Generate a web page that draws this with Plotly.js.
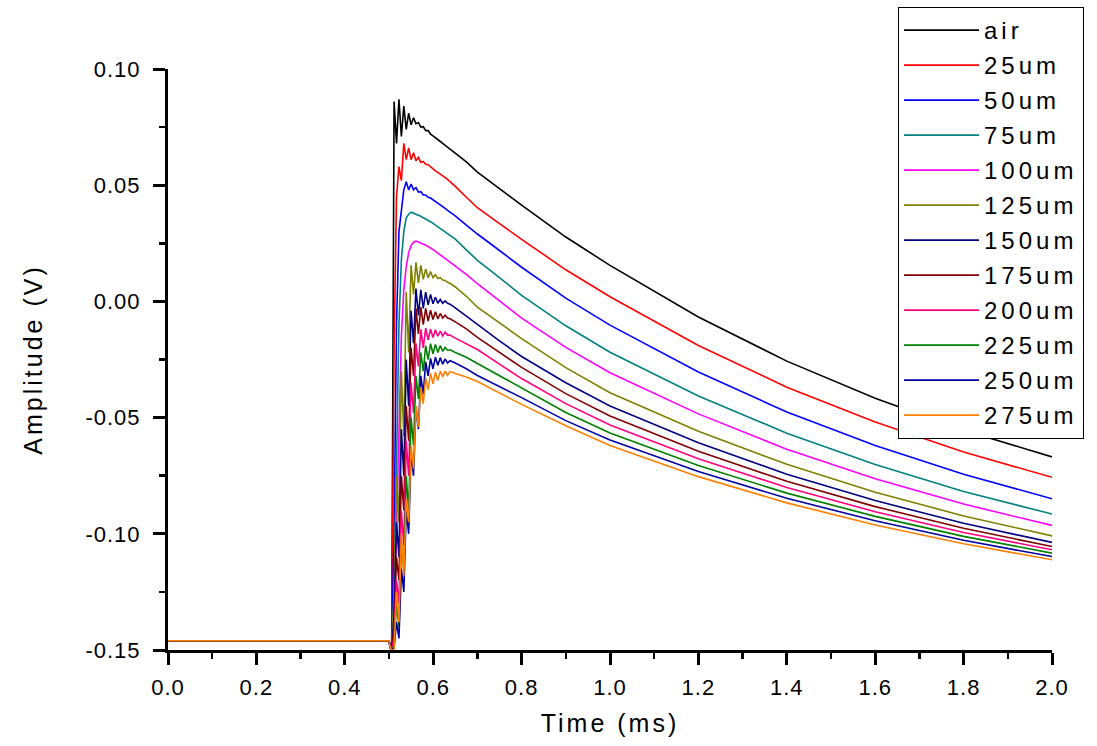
<!DOCTYPE html>
<html>
<head>
<meta charset="utf-8">
<script src="https://cdn.plot.ly/plotly-3.0.1.min.js"></script>
<style>
  html, body { margin: 0; padding: 0; background: #fff; }
  #chart { width: 1097px; height: 746px; }
  .legendtext { letter-spacing: 4px; }
  .xtitle, .ytitle { letter-spacing: 3px; }
  .xtick text, .ytick text { letter-spacing: 1px; }
</style>
</head>
<body>
<div id="chart"></div>
<script>
// Time axis (ms)
const time = [0, 0.5, 0.503, 0.506, 0.5115, 0.517, 0.5225, 0.528, 0.5335, 0.539, 0.5445, 0.55,
  0.5555, 0.561, 0.5665, 0.572, 0.5775, 0.583, 0.5885, 0.594, 0.5995, 0.605, 0.6105, 0.616,
  0.6215, 0.627, 0.6325, 0.638, 0.65, 0.675, 0.7, 0.75, 0.8, 0.9, 1.0, 1.2, 1.4, 1.6, 1.8, 2.0];

// Amplitude (V) per series
const air = [-0.146,-0.146,-0.149,-0.150, 0.086,0.068,0.087,0.071,0.084,0.074,0.081,0.076,0.079,0.0765,0.077,0.075,0.0752,0.0735,0.0735,0.072,0.0712,0.0705,0.0695,0.0688,0.068,0.0672,0.0664,0.0656, 0.064,0.06, 0.0556,0.0483,0.0414,0.0277,0.0155,-0.0067,-0.0257,-0.0417,-0.0554,-0.0669];
const um25 = [-0.146,-0.146,-0.149,-0.150, -0.02,0.045,0.058,0.052,0.068,0.061,0.066,0.061,0.064,0.0605,0.062,0.0598,0.0602,0.059,0.0588,0.0578,0.057,0.0562,0.0555,0.0548,0.054,0.0532,0.0525,0.0515, 0.0495,0.0448, 0.0403,0.0335,0.0267,0.0136,0.002,-0.019,-0.0369,-0.0519,-0.0648,-0.0757];
const um50 = [-0.146,-0.146,-0.149,-0.150, -0.10,-0.01,0.030,0.040,0.048,0.0515,0.048,0.0505,0.048,0.049,0.047,0.0472,0.0458,0.0458,0.0448,0.0445,0.0438,0.043,0.0423,0.0415,0.0408,0.04,0.0392,0.0385, 0.0368,0.0328, 0.029,0.0219,0.0147,0.0014,-0.0102,-0.0304,-0.0476,-0.062,-0.0744,-0.0849];
const um75 = [-0.146,-0.146,-0.149,-0.150, -0.13,-0.06,-0.01,0.018,0.030,0.036,0.0375,0.0384,0.038,0.0375,0.0372,0.0366,0.036,0.0355,0.035,0.0343,0.0336,0.0329,0.0322,0.0315,0.0308,0.03,0.0293,0.0285, 0.0268,0.0222, 0.0177,0.0102,0.0026,-0.0105,-0.0219,-0.0407,-0.0567,-0.0702,-0.0818,-0.0915];
const um100 = [-0.146,-0.146,-0.149,-0.150, -0.14,-0.10,-0.05,-0.015,0.005,0.015,0.021,0.024,0.0255,0.0259,0.0256,0.0252,0.0247,0.0242,0.0236,0.023,0.0223,0.0216,0.0208,0.02,0.0192,0.0184,0.0176,0.0168, 0.0153,0.0116, 0.0076,0.0,-0.0072,-0.0198,-0.0307,-0.0484,-0.0636,-0.0763,-0.0872,-0.0964];
const um125 = [-0.146,-0.146,-0.149,-0.150, -0.125,-0.075,-0.095,-0.030,-0.058,0.004,-0.022,0.0155,0.003,0.0168,0.008,0.0155,0.0095,0.014,0.0102,0.0128,0.0102,0.0115,0.0098,0.0102,0.0092,0.0090,0.0082,0.0078, 0.0062,0.0022, -0.0025,-0.0092,-0.016,-0.0285,-0.0393,-0.0559,-0.0701,-0.0821,-0.0923,-0.1009];
const um150 = [-0.146,-0.146,-0.149,-0.150, -0.135,-0.095,-0.11,-0.055,-0.075,-0.025,-0.045,-0.004,-0.018,0.0055,-0.006,0.005,-0.003,0.004,-0.0015,0.003,-0.001,0.0018,-0.0008,0.0008,-0.0008,0.0002,-0.0008,-0.0012, -0.0028,-0.0062, -0.0099,-0.017,-0.0237,-0.035,-0.045,-0.0608,-0.0744,-0.0857,-0.0955,-0.1037];
const um175 = [-0.146,-0.146,-0.149,-0.150, -0.14,-0.11,-0.12,-0.075,-0.09,-0.045,-0.06,-0.02,-0.032,-0.003,-0.014,-0.0025,-0.01,-0.003,-0.0085,-0.0038,-0.0078,-0.0045,-0.0075,-0.0052,-0.0072,-0.006,-0.0072,-0.0075, -0.0088,-0.0118, -0.0155,-0.022,-0.0284,-0.0397,-0.0493,-0.0645,-0.0774,-0.0883,-0.0976,-0.1055];
const um200 = [-0.146,-0.146,-0.149,-0.150, -0.145,-0.12,-0.13,-0.09,-0.105,-0.06,-0.075,-0.035,-0.048,-0.018,-0.028,-0.012,-0.02,-0.0115,-0.0165,-0.012,-0.0155,-0.0122,-0.015,-0.0128,-0.0148,-0.0132,-0.0145,-0.0145, -0.0158,-0.0182, -0.0207,-0.027,-0.0332,-0.044,-0.0532,-0.0677,-0.0801,-0.0905,-0.0994,-0.1069];
const um225 = [-0.146,-0.146,-0.149,-0.150, -0.148,-0.13,-0.14,-0.105,-0.115,-0.075,-0.09,-0.05,-0.062,-0.032,-0.042,-0.022,-0.03,-0.019,-0.025,-0.0182,-0.0225,-0.0185,-0.022,-0.019,-0.0215,-0.0198,-0.021,-0.0208, -0.022,-0.024, -0.0267,-0.032,-0.0375,-0.0478,-0.0566,-0.0706,-0.0825,-0.0925,-0.1011,-0.1083];
const um250 = [-0.146,-0.146,-0.149,-0.150, -0.149,-0.138,-0.145,-0.115,-0.125,-0.09,-0.10,-0.065,-0.075,-0.045,-0.055,-0.032,-0.04,-0.026,-0.032,-0.0245,-0.029,-0.024,-0.0275,-0.0242,-0.027,-0.0248,-0.0265,-0.0255, -0.0265,-0.029, -0.0319,-0.0365,-0.0414,-0.0513,-0.0596,-0.0732,-0.0847,-0.0944,-0.1028,-0.1098];
const um275 = [-0.146,-0.146,-0.149,-0.150, -0.150,-0.125,-0.138,-0.10,-0.118,-0.085,-0.095,-0.062,-0.072,-0.045,-0.054,-0.037,-0.044,-0.033,-0.038,-0.031,-0.0355,-0.0305,-0.034,-0.030,-0.0325,-0.030,-0.0318,-0.0302, -0.031,-0.0325, -0.0345,-0.0395,-0.0443,-0.0535,-0.062,-0.0754,-0.0867,-0.0962,-0.1043,-0.1112];

const seriesNames = ['air','25um','50um','75um','100um','125um','150um','175um','200um','225um','250um','275um'];
const seriesValues = [air, um25, um50, um75, um100, um125, um150, um175, um200, um225, um250, um275];
const seriesColors = ['#000000','#FF0000','#0000FF','#008080','#FF00FF','#808000','#000080','#800000','#FF0080','#008000','#0000A0','#FF8000'];

const xTickVals = [0, 0.2, 0.4, 0.6, 0.8, 1.0, 1.2, 1.4, 1.6, 1.8, 2.0];
const xTickText = ['0.0','0.2','0.4','0.6','0.8','1.0','1.2','1.4','1.6','1.8','2.0'];
const xMinorVals = [0.1, 0.3, 0.5, 0.7, 0.9, 1.1, 1.3, 1.5, 1.7, 1.9];
const yTickVals = [-0.15, -0.10, -0.05, 0.00, 0.05, 0.10];
const yTickText = ['-0.15','-0.10','-0.05','0.00','0.05','0.10'];
const yMinorVals = [-0.125, -0.075, -0.025, 0.025, 0.075];

const traces = seriesNames.map((name, i) => ({
  type: 'scatter',
  mode: 'lines',
  name: name,
  legendgroup: 'g' + i,
  x: time,
  y: seriesValues[i],
  line: { color: seriesColors[i], width: 1.6 }
}));

const font = 'Liberation Sans, Arial, sans-serif';

const layout = {
  width: 1097,
  height: 746,
  margin: { l: 168, r: 45, t: 69, b: 96, autoexpand: false },
  paper_bgcolor: '#ffffff',
  plot_bgcolor: '#ffffff',
  font: { family: font, color: '#000000', size: 22 },
  showlegend: true,
  xaxis: {
    range: [0, 2],
    tickmode: 'array', tickvals: xTickVals, ticktext: xTickText,
    ticks: 'outside', ticklen: 12, tickwidth: 3, tickcolor: '#000',
    showline: true, linewidth: 3, linecolor: '#000',
    showgrid: false, zeroline: false,
    tickfont: { family: font, size: 22, color: '#000' },
    ticklabelstandoff: 4,
    minor: { tickmode: 'array', tickvals: xMinorVals, ticks: 'outside', ticklen: 6, tickwidth: 2.5, tickcolor: '#000', showgrid: false },
    title: { text: 'Time (ms)', font: { family: font, size: 25, color: '#000' }, standoff: 16 }
  },
  yaxis: {
    range: [-0.15, 0.10],
    tickmode: 'array', tickvals: yTickVals, ticktext: yTickText,
    ticks: 'outside', ticklen: 12, tickwidth: 3, tickcolor: '#000',
    showline: true, linewidth: 3, linecolor: '#000',
    showgrid: false, zeroline: false,
    tickfont: { family: font, size: 22, color: '#000' },
    ticklabelstandoff: 8,
    minor: { tickmode: 'array', tickvals: yMinorVals, ticks: 'outside', ticklen: 6, tickwidth: 2.5, tickcolor: '#000', showgrid: false },
    title: { text: 'Amplitude (V)', font: { family: font, size: 25, color: '#000' }, standoff: 36 }
  },
  legend: {
    x: 0.8258, y: 1.1067, xanchor: 'left', yanchor: 'top',
    bgcolor: '#ffffff', bordercolor: '#000000', borderwidth: 1,
    font: { family: font, size: 24, color: '#000' },
    itemwidth: 75,
    maxheight: 600,
    traceorder: 'grouped',
    tracegroupgap: 0.8
  }
};

Plotly.newPlot('chart', traces, layout, { displayModeBar: false, staticPlot: true });
</script>
</body>
</html>
